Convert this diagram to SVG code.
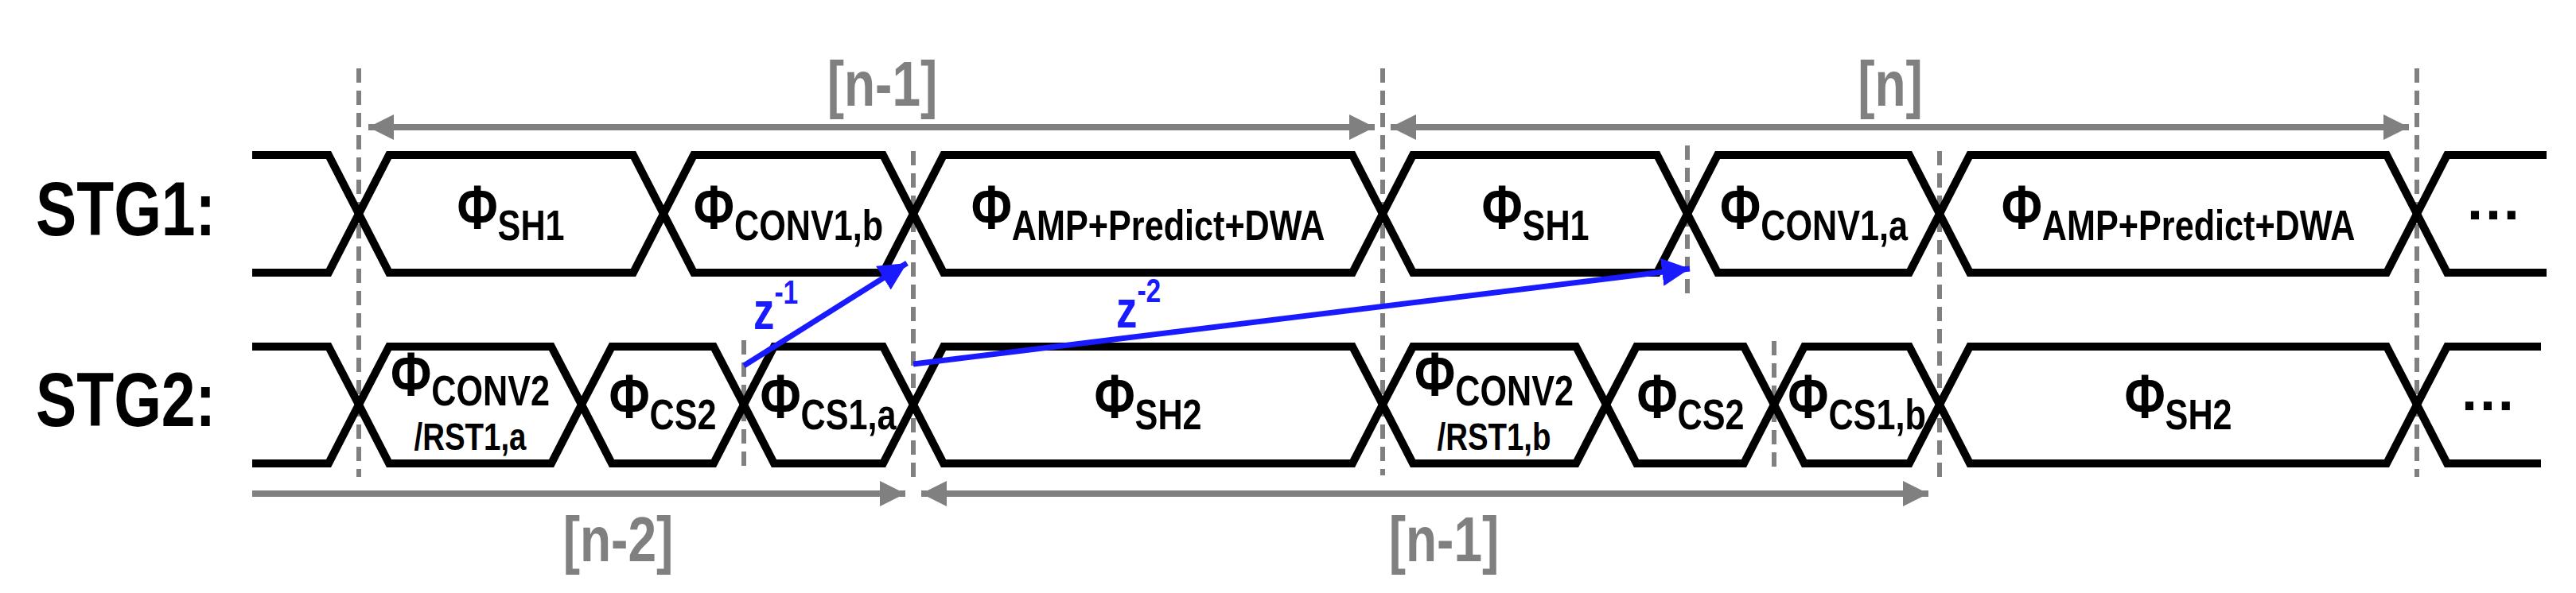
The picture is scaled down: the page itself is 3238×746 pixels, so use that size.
<svg xmlns="http://www.w3.org/2000/svg" width="3238" height="746" viewBox="0 0 3238 746">
<style>
.sig{fill:none;stroke:#000;stroke-width:10;stroke-linejoin:miter}
.dash{stroke:#808080;stroke-width:6;stroke-dasharray:18,10;fill:none}
.gar{stroke:#808080;stroke-width:8;fill:none}
.bar{stroke:#1a1aff;stroke-width:7;fill:none}
text{font-family:"Liberation Sans",Arial,sans-serif;font-weight:bold}
.ph{font-size:78px;text-anchor:middle}
.sb{font-size:54px}
.s2{font-size:48px;text-anchor:middle}
.el{font-size:72px;text-anchor:middle}
.lbl{font-size:96px}
.gl{font-size:80px;fill:#808080;text-anchor:middle;font-weight:bold}
.bl{font-size:66px;fill:#1a1aff}
.n{transform:scale(0.8,1)}
</style>
<defs>
<marker id="ga" viewBox="0 0 10 10" refX="10" refY="5" markerWidth="4" markerHeight="4.5" orient="auto-start-reverse" markerUnits="strokeWidth"><path d="M0,0L10,5L0,10z" fill="#808080"/></marker>
<marker id="ba" viewBox="0 0 10 10" refX="10" refY="5" markerWidth="5" markerHeight="5" orient="auto" markerUnits="strokeWidth"><path d="M0,0L10,5L0,10z" fill="#1a1aff"/></marker>
</defs>
<g id="guides">
<line class="dash" x1="451" y1="86" x2="451" y2="600"/>
<line class="dash" x1="1148" y1="190" x2="1148" y2="605"/>
<line class="dash" x1="935" y1="428" x2="935" y2="595"/>
<line class="dash" x1="1738" y1="86" x2="1738" y2="598"/>
<line class="dash" x1="2121" y1="183" x2="2121" y2="371"/>
<line class="dash" x1="2230" y1="429" x2="2230" y2="595"/>
<line class="dash" x1="2438" y1="190" x2="2438" y2="605"/>
<line class="dash" x1="3038" y1="86" x2="3038" y2="600"/>
</g>
<g id="stg1">
<g transform="translate(45,0)"><text class="lbl n" x="0" y="296">STG1:</text></g>
<path class="sig" d="M317,195H413L451,269L413,343H317"/>
<path class="sig" d="M451,269L489,195H796L834,269L796,343H489Z"/>
<path class="sig" d="M834,269L872,195H1110L1148,269L1110,343H872Z"/>
<path class="sig" d="M1148,269L1186,195H1700L1738,269L1700,343H1186Z"/>
<path class="sig" d="M1738,269L1776,195H2083L2121,269L2083,343H1776Z"/>
<path class="sig" d="M2121,269L2159,195H2400L2438,269L2400,343H2159Z"/>
<path class="sig" d="M2438,269L2476,195H3000L3038,269L3000,343H2476Z"/>
<path class="sig" d="M3201,195H3076L3038,269L3076,343H3201"/>
<g transform="translate(642,0)"><text class="ph n" x="0" y="288">Φ<tspan class="sb" dy="14">SH1</tspan></text></g>
<g transform="translate(991,0)"><text class="ph n" x="0" y="288">Φ<tspan class="sb" dy="14">CONV1,b</tspan></text></g>
<g transform="translate(1443,0)"><text class="ph n" x="0" y="288">Φ<tspan class="sb" dy="14">AMP+Predict+DWA</tspan></text></g>
<g transform="translate(1930,0)"><text class="ph n" x="0" y="288">Φ<tspan class="sb" dy="14">SH1</tspan></text></g>
<g transform="translate(2280,0)"><text class="ph n" x="0" y="288">Φ<tspan class="sb" dy="14">CONV1,a</tspan></text></g>
<g transform="translate(2738,0)"><text class="ph n" x="0" y="288">Φ<tspan class="sb" dy="14">AMP+Predict+DWA</tspan></text></g>
<text class="el" x="3134" y="276">…</text>
</g>
<g id="stg2">
<g transform="translate(45,0)"><text class="lbl n" x="0" y="536">STG2:</text></g>
<path class="sig" d="M317,436H413L451,509L413,583H317"/>
<path class="sig" d="M451,509L489,436H693L731,509L693,583H489Z"/>
<path class="sig" d="M731,509L769,436H897L935,509L897,583H769Z"/>
<path class="sig" d="M935,509L973,436H1110L1148,509L1110,583H973Z"/>
<path class="sig" d="M1148,509L1186,436H1700L1738,509L1700,583H1186Z"/>
<path class="sig" d="M1738,509L1776,436H1981L2019,509L1981,583H1776Z"/>
<path class="sig" d="M2019,509L2057,436H2192L2230,509L2192,583H2057Z"/>
<path class="sig" d="M2230,509L2268,436H2400L2438,509L2400,583H2268Z"/>
<path class="sig" d="M2438,509L2476,436H3000L3038,509L3000,583H2476Z"/>
<path class="sig" d="M3194,436H3076L3038,509L3076,583H3194"/>
<g transform="translate(591,0)"><text class="ph n" x="0" y="498">Φ<tspan class="sb" dy="12">CONV2</tspan></text>
<text class="s2 n" x="0" y="566">/RST1,a</text></g>
<g transform="translate(833,0)"><text class="ph n" x="0" y="526">Φ<tspan class="sb" dy="14">CS2</tspan></text></g>
<g transform="translate(1041,0)"><text class="ph n" x="0" y="526">Φ<tspan class="sb" dy="14">CS1,a</tspan></text></g>
<g transform="translate(1443,0)"><text class="ph n" x="0" y="526">Φ<tspan class="sb" dy="14">SH2</tspan></text></g>
<g transform="translate(1878,0)"><text class="ph n" x="0" y="498">Φ<tspan class="sb" dy="12">CONV2</tspan></text>
<text class="s2 n" x="0" y="566">/RST1,b</text></g>
<g transform="translate(2125,0)"><text class="ph n" x="0" y="526">Φ<tspan class="sb" dy="14">CS2</tspan></text></g>
<g transform="translate(2334,0)"><text class="ph n" x="0" y="526">Φ<tspan class="sb" dy="14">CS1,b</tspan></text></g>
<g transform="translate(2738,0)"><text class="ph n" x="0" y="526">Φ<tspan class="sb" dy="14">SH2</tspan></text></g>
<text class="el" x="3127" y="516">…</text>
</g>
<g id="connectors">
<line class="gar" x1="463" y1="160" x2="1728" y2="160" marker-start="url(#ga)" marker-end="url(#ga)"/>
<line class="gar" x1="1748" y1="160" x2="3028" y2="160" marker-start="url(#ga)"  marker-end="url(#ga)"/>
<line class="gar" x1="317" y1="621" x2="1138" y2="621" marker-end="url(#ga)"/>
<line class="gar" x1="1158" y1="621" x2="2424" y2="621" marker-start="url(#ga)" marker-end="url(#ga)"/>
<line class="bar" x1="935" y1="460" x2="1140" y2="331" marker-end="url(#ba)"/>
<line class="bar" x1="1148" y1="458" x2="2124" y2="338" marker-end="url(#ba)"/>
</g>
<g id="labels">
<g transform="translate(1109,0)"><text class="gl n" x="0" y="133">[n-1]</text></g>
<g transform="translate(2376,0)"><text class="gl n" x="0" y="133">[n]</text></g>
<g transform="translate(777,0)"><text class="gl n" x="0" y="706">[n-2]</text></g>
<g transform="translate(1815,0)"><text class="gl n" x="0" y="706">[n-1]</text></g>
<g transform="translate(947,0)"><text class="bl n" x="0" y="414">z<tspan font-size="42" dy="-32">-1</tspan></text></g>
<g transform="translate(1403,0)"><text class="bl n" x="0" y="412">z<tspan font-size="42" dy="-32">-2</tspan></text></g>
</g>
</svg>
